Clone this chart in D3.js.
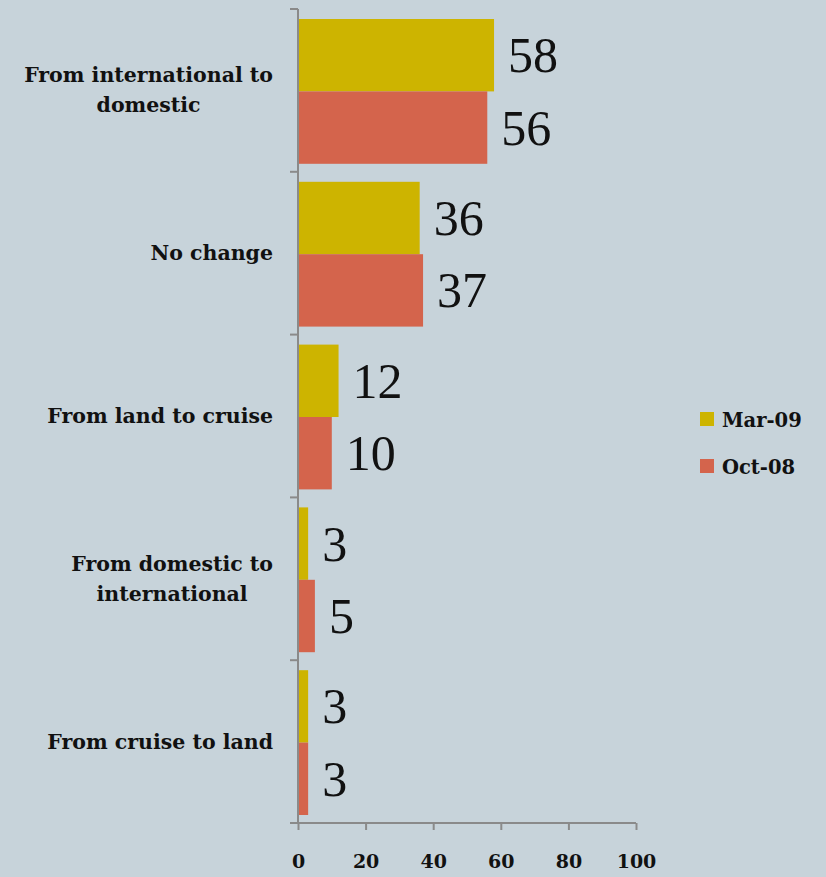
<!DOCTYPE html>
<html>
<head>
<meta charset="utf-8">
<script src="https://cdn.jsdelivr.net/npm/d3@7"></script>
<style>
  body { margin: 0; background: #c7d3da; }
  svg { display: block; }
</style>
</head>
<body>
<div id="chart"></div>
<script>
var categories = [
  ["From international to", "domestic"],
  ["No change"],
  ["From land to cruise"],
  ["From domestic to", "international"],
  ["From cruise to land"]
];
var seriesNames = ["Mar-09", "Oct-08"];
var mar09 = [58, 36, 12, 3, 3];
var oct08 = [56, 37, 10, 5, 3];
var xTicks = [0, 20, 40, 60, 80, 100];
var colors = ["#cdb400", "#d4644c"];

var svgWidth = 826;
var svgHeight = 877;
var margin = {top: 9, left: 298, right: 190, bottom: 54};
var width = 636 - margin.left;
var height = 823 - margin.top;

var catKeys = categories.map(function(c) { return c.join(" "); });
var values = [mar09, oct08];

var chart = d3.select("#chart")
  .append("svg")
  .attr("width", svgWidth)
  .attr("height", svgHeight);

chart.append("rect")
  .attr("width", svgWidth)
  .attr("height", svgHeight)
  .attr("fill", "#c7d3da");

var main = chart.append("g")
  .attr("transform", "translate(" + margin.left + "," + margin.top + ")");

var xScale = d3.scaleLinear().domain([0, 100]).range([0, width]);
var yScale = d3.scaleBand().domain(catKeys).range([0, height]);
var inner = d3.scaleBand().domain(seriesNames)
  .range([10, yScale.bandwidth() - 8]);

// bars
catKeys.forEach(function(key, i) {
  var g = main.append("g")
    .attr("transform", "translate(0," + yScale(key) + ")");
  seriesNames.forEach(function(s, j) {
    var v = values[j][i];
    g.append("rect")
      .attr("x", 0)
      .attr("y", inner(s))
      .attr("width", xScale(v))
      .attr("height", inner.bandwidth())
      .attr("fill", colors[j]);
    g.append("text")
      .attr("x", xScale(v) + 14)
      .attr("y", inner(s) + inner.bandwidth() / 2 + 17)
      .attr("font-family", "Liberation Serif, serif")
      .attr("font-size", 50)
      .attr("fill", "#111")
      .text(v);
  });
});

// x axis
var xAxis = d3.axisBottom(xScale).tickValues(xTicks).tickSize(7).tickPadding(25);
var gx = main.append("g")
  .attr("transform", "translate(0," + height + ")")
  .call(xAxis);
gx.select(".domain").attr("stroke", "#8a8a8a").attr("stroke-width", 2)
  .attr("d", "M-8,0H" + width);
gx.selectAll(".tick line").attr("stroke", "#8a8a8a").attr("stroke-width", 2);
gx.selectAll(".tick text")
  .attr("font-family", "DejaVu Serif, serif")
  .attr("font-weight", "bold")
  .attr("font-size", 19)
  .attr("fill", "#111");

// y axis line and boundary ticks
main.append("line")
  .attr("x1", 0).attr("x2", 0)
  .attr("y1", 0).attr("y2", height)
  .attr("stroke", "#8a8a8a").attr("stroke-width", 2);
var bounds = catKeys.map(function(k) { return yScale(k); });
main.selectAll(".ytick")
  .data(bounds)
  .enter()
  .append("line")
  .attr("x1", -8).attr("x2", 0)
  .attr("y1", function(d) { return d; })
  .attr("y2", function(d) { return d; })
  .attr("stroke", "#8a8a8a").attr("stroke-width", 2);

// category labels, lines centred, block right-aligned
catKeys.forEach(function(key, i) {
  var lines = categories[i];
  var cy = yScale(key) + yScale.bandwidth() / 2;
  var t = main.append("text")
    .attr("text-anchor", "middle")
    .attr("font-family", "DejaVu Serif, serif")
    .attr("font-weight", "bold")
    .attr("font-size", 20.5)
    .attr("fill", "#111");
  lines.forEach(function(line, k) {
    t.append("tspan")
      .attr("x", 0)
      .attr("y", cy + 7 + (k - (lines.length - 1) / 2) * 30)
      .text(line);
  });
  var w = t.node().getBBox().width;
  t.attr("transform", "translate(" + (-25 - w / 2) + ",0)");
});

// legend
var legend = chart.append("g").attr("transform", "translate(700,412)");
seriesNames.forEach(function(s, j) {
  legend.append("rect")
    .attr("x", 0).attr("y", j * 47)
    .attr("width", 14).attr("height", 14)
    .attr("fill", colors[j]);
  legend.append("text")
    .attr("x", 22).attr("y", j * 47 + 15)
    .attr("font-family", "DejaVu Serif, serif")
    .attr("font-weight", "bold")
    .attr("font-size", 19.5)
    .attr("fill", "#111")
    .text(s);
});
</script>
</body>
</html>
